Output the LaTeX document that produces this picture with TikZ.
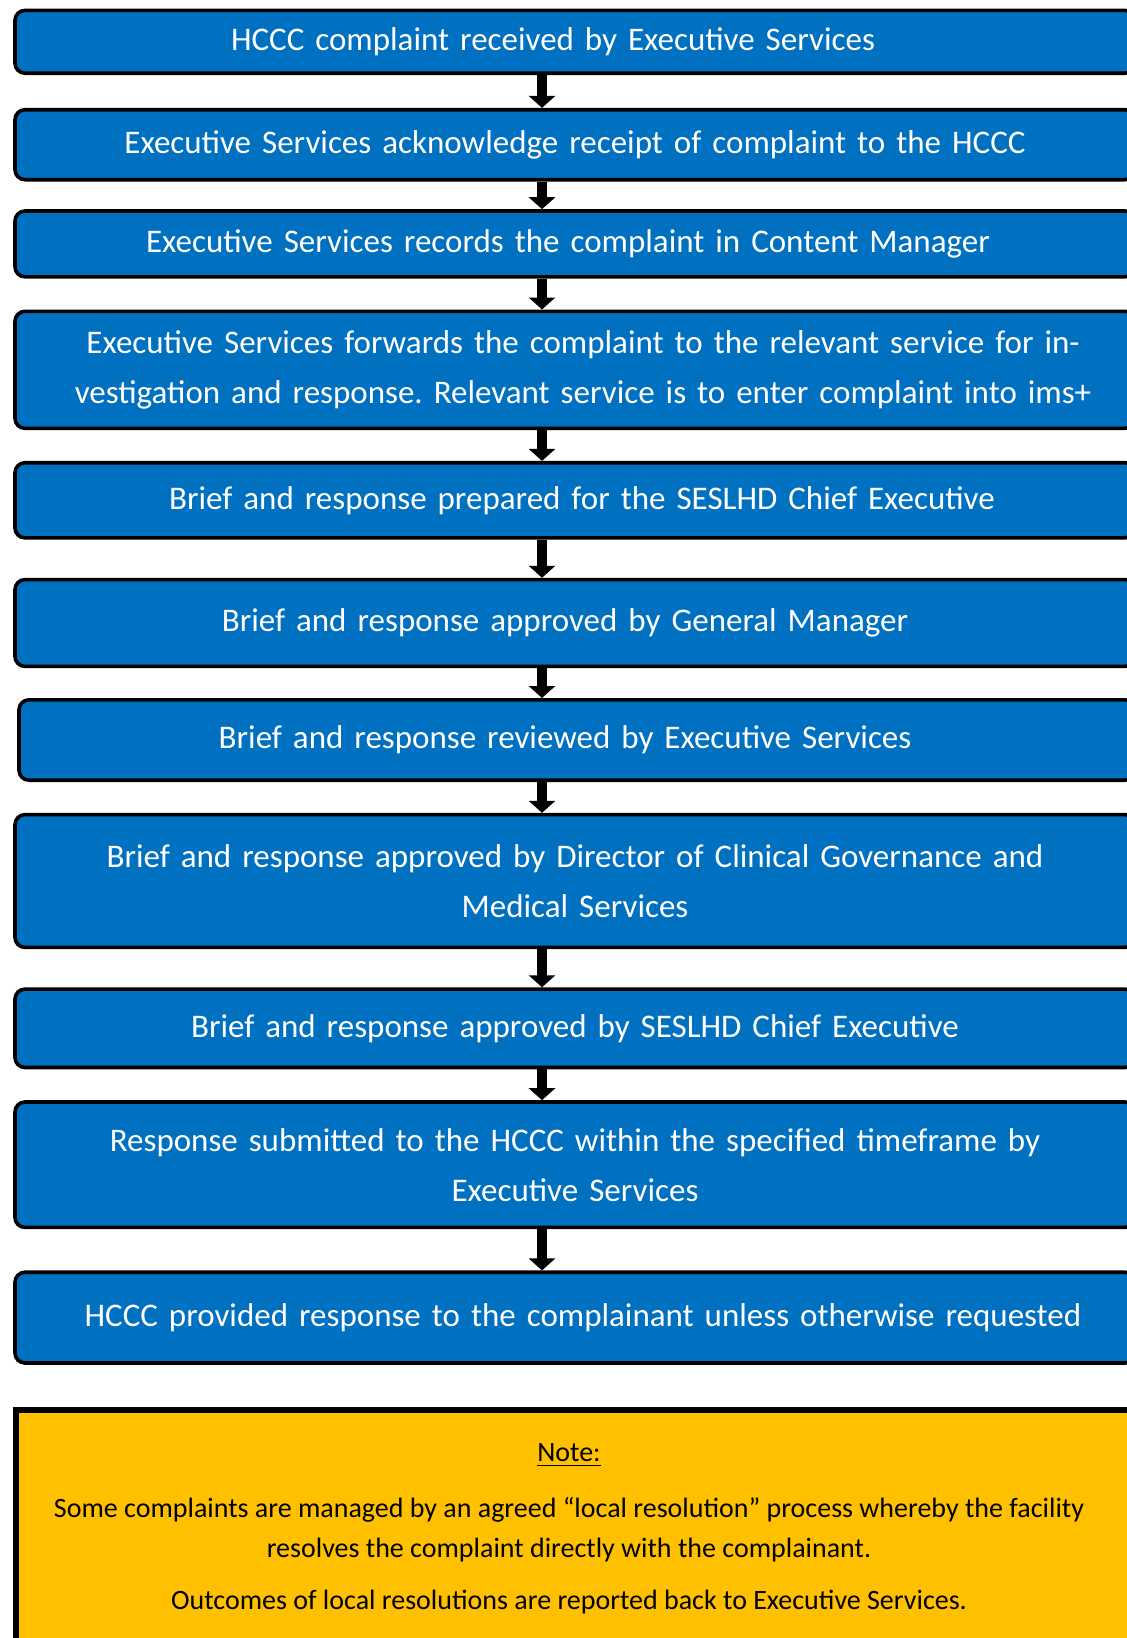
\documentclass[tikz,border=0pt]{standalone}
\usepackage{fontspec}
\setmainfont{Carlito}
\usepackage{xcolor}
\usetikzlibrary{arrows.meta}
\frenchspacing
\definecolor{stepblue}{HTML}{0070C0}
\definecolor{noteamber}{HTML}{FFC000}
\tikzset{
  stepbox/.style={draw=black, line width=1.8pt, fill=stepblue, rounded corners=5pt,
    minimum width=560pt, text width=545pt, align=center, inner sep=0pt,
    text=white, font=\fontsize{16.5}{25}\selectfont},
  flow/.style={line width=5pt, -{Triangle[length=6pt,width=13pt]}},
  notetext/.style={align=center, inner sep=0pt, font=\fontsize{14}{20}\selectfont}
}
\newcommand{\flowarrow}[2]{\draw[flow] (#1.south -| arrx) -- (#2.north -| arrx)}

\begin{document}
\begin{tikzpicture}[x=0.5pt,y=-0.5pt]
    \useasboundingbox (0,0) rectangle (1126,1638);
    \coordinate (arrx) at (542,0);

    \node[stepbox, minimum height=31.4pt] (recv) at (575,41.8) {\hspace*{-22pt}HCCC complaint received by Executive Services};
    \node[stepbox, minimum height=35pt] (ack) at (575,144.7) {Executive Services acknowledge receipt of complaint to the HCCC};
    \node[stepbox, minimum height=32.9pt] (rec) at (575,243.9) {\hspace*{-7pt}Executive Services records the complaint in Content Manager};
    \node[stepbox, minimum height=58.5pt] (fwd) at (575,369.8) {\hspace*{8pt}Executive Services forwards the complaint to the relevant service for in-\\\hspace*{8pt}vestigation and response. Relevant service is to enter complaint into ims+};
    \node[stepbox, minimum height=37.6pt] (prep) at (575,500.3) {\hspace*{7pt}Brief and response prepared for the SESLHD Chief Executive};
    \node[stepbox, minimum height=43.4pt] (gm) at (575,623) {\hspace*{-10pt}Brief and response approved by General Manager};
    \node[stepbox, minimum height=40.2pt, minimum width=558pt] (rev) at (577,740) {\hspace*{-12pt}Brief and response reviewed by Executive Services};
    \node[stepbox, minimum height=66.4pt] (dcg) at (575,881) {Brief and response approved by Director of Clinical Governance and\\Medical Services};
    \node[stepbox, minimum height=39.2pt] (ce) at (575,1028.3) {Brief and response approved by SESLHD Chief Executive};
    \node[stepbox, minimum height=62.7pt] (sub) at (575,1164.7) {Response submitted to the HCCC within the specified timeframe by\\Executive Services};
    \node[stepbox, minimum height=45.4pt] (resp) at (575,1317.6) {\hspace*{8pt}HCCC provided response to the complainant unless otherwise requested};

    \flowarrow{recv}{ack};
    \flowarrow{ack}{rec};
    \flowarrow{rec}{fwd};
    \flowarrow{fwd}{prep};
    \flowarrow{prep}{gm};
    \flowarrow{gm}{rev};
    \flowarrow{rev}{dcg};
    \flowarrow{dcg}{ce};
    \flowarrow{ce}{sub};
    \flowarrow{sub}{resp};

    \node[draw=black, line width=3pt, fill=noteamber, anchor=north west,
      minimum width=570pt, minimum height=130pt, inner sep=0pt] (note) at (12.5,1407) {};
    \node[notetext] (notehead) at (569,1455) {\underline{Note:}};
    \node[notetext] (notebody) at (569,1530) {Some complaints are managed by an agreed “local resolution” process whereby the facility\\resolves the complaint directly with the complainant.};
    \node[notetext] (noteout) at (569,1602) {Outcomes of local resolutions are reported back to Executive Services.};
\end{tikzpicture}
\end{document}
